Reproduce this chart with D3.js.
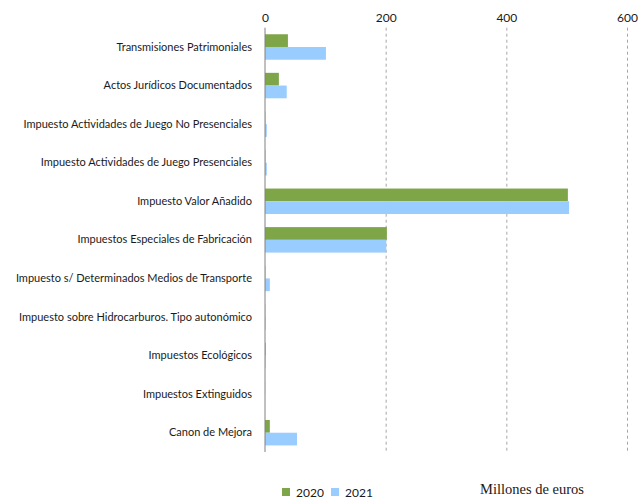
<!DOCTYPE html>
<html><head><meta charset="utf-8">
<script src="https://cdn.jsdelivr.net/npm/d3@7"></script>
<style>body{margin:0;background:#fff}svg{display:block}</style>
</head><body>
<script>
const categories = [
  "Transmisiones Patrimoniales",
  "Actos Jurídicos Documentados",
  "Impuesto Actividades de Juego No Presenciales",
  "Impuesto Actividades de Juego Presenciales",
  "Impuesto Valor Añadido",
  "Impuestos Especiales de Fabricación",
  "Impuesto s/ Determinados Medios de Transporte",
  "Impuesto sobre Hidrocarburos. Tipo autonómico",
  "Impuestos Ecológicos",
  "Impuestos Extinguidos",
  "Canon de Mejora"
];
const values2020 = [38, 23, 0.5, 0.5, 502, 202, 0.5, 0.3, 1, 0.2, 8];
const values2021 = [101, 36, 3, 3, 504, 201, 8, 1, 1, 0, 53];
const seriesNames = ["2020", "2021"];
const tickValues = [0, 200, 400, 600];
const unitLabel = "Millones de euros";

const W = 640, H = 501;
const colors = {"2020": "#7EA648", "2021": "#99CCFF"};
const svg = d3.select("body").append("svg").attr("width", W).attr("height", H);

const x = d3.scaleLinear().domain([0, 600]).range([265, 627]);
const y = d3.scaleBand().domain(categories).range([27.7, 452]).paddingInner(0.34).paddingOuter(0.17);
const ySub = d3.scaleBand().domain(seriesNames).range([0, y.bandwidth()]);

// gridlines
svg.append("g").selectAll("line").data(tickValues.filter(d => d > 0)).join("line")
  .attr("x1", d => x(d) + 0.5).attr("x2", d => x(d) + 0.5)
  .attr("y1", 27.7).attr("y2", 452)
  .attr("stroke", "#a6a6a6").attr("stroke-width", 1).attr("stroke-dasharray", "3,3");

// bars
const data = categories.map((c, i) => ({c, vals: [["2020", values2020[i]], ["2021", values2021[i]]]}));
const g = svg.append("g");
data.forEach(d => {
  d.vals.forEach(([s, v]) => {
    g.append("rect")
      .attr("x", x(0))
      .attr("y", y(d.c) + ySub(s))
      .attr("width", Math.max(0, x(v) - x(0)))
      .attr("height", ySub.bandwidth())
      .attr("fill", colors[s]);
  });
});

// zero axis line
svg.append("line").attr("x1", x(0)).attr("x2", x(0)).attr("y1", 27.7).attr("y2", 452)
  .attr("stroke", "#808080").attr("stroke-width", 1);

// top tick labels
const xAxis = d3.axisTop(x).tickValues(tickValues).tickSize(0).tickPadding(0);
const ax = svg.append("g").attr("transform", "translate(0,22)").call(xAxis);
ax.select(".domain").remove();
ax.selectAll("text").attr("font-family", "Lato, 'Open Sans', sans-serif").attr("font-size", 12).attr("fill", "#1a1a1a");

// category labels
const yAxis = d3.axisLeft(y).tickSize(0).tickPadding(0);
const ay = svg.append("g").attr("transform", "translate(252,0)").call(yAxis);
ay.select(".domain").remove();
ay.selectAll("text").attr("font-family", "Lato, 'Open Sans', sans-serif").attr("font-size", 11).attr("fill", "#1a1a1a");

// legend
const leg = svg.append("g").attr("transform", "translate(282,488)");
seriesNames.forEach((s, i) => {
  const lg = leg.append("g").attr("transform", `translate(${i * 49},0)`);
  lg.append("rect").attr("width", 8).attr("height", 8).attr("fill", colors[s]);
  lg.append("text").attr("x", 14).attr("y", 8.5).text(s)
    .attr("font-family", "Lato, 'Open Sans', sans-serif").attr("font-size", 12).attr("fill", "#1a1a1a");
});

svg.append("text").attr("x", 480).attr("y", 494).text(unitLabel)
  .attr("font-family", "'Liberation Serif', serif").attr("font-size", 14.5).attr("fill", "#1a1a1a");
</script>
</body></html>
